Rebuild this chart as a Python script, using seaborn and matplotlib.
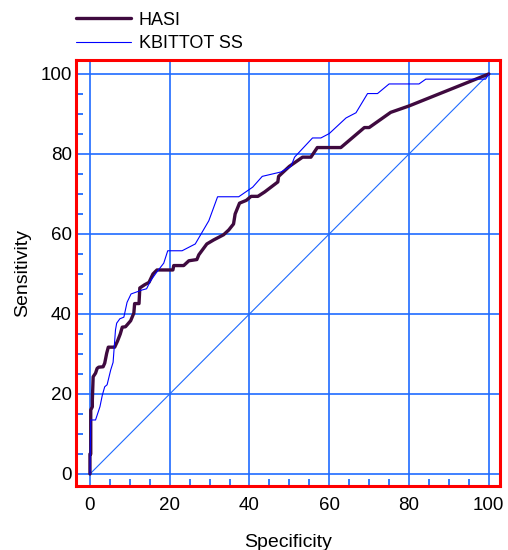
import pandas as pd
import matplotlib
matplotlib.use('Agg')
import matplotlib.pyplot as plt
from matplotlib.ticker import MultipleLocator
import seaborn as sns

# ROC curves
hasi_x = [0, 0, 0.2, 0.2, 0.6, 0.6, 0.8, 1.4, 1.8, 2.2, 3.3, 3.7, 4.2, 4.6, 6.2,
          6.9, 7.6, 8.1, 8.9, 10.2, 11.0, 11.2, 12.3, 12.5, 13.7, 14.8, 15.8, 16.8,
          20.8, 21.0, 23.5, 24.8, 26.8, 27.3, 29.3, 31.0, 33.5, 34.8, 36.0, 36.4,
          37.5, 39.2, 40.4, 42.1, 43.8, 47.1, 47.3, 50.0, 53.3, 55.4, 57.0, 62.9,
          68.8, 70.0, 75.4, 80.0, 100]
hasi_y = [0, 5, 5, 16, 16.8, 18.5, 24.3, 25.2, 26.4, 26.7, 26.8, 27.7, 30.2, 31.7, 31.7,
          33.2, 35.0, 36.7, 36.8, 38.3, 40.2, 42.6, 42.6, 46.5, 47.3, 47.9, 50.0, 51.0,
          51.0, 52.1, 52.1, 53.3, 53.6, 54.8, 57.5, 58.5, 59.8, 61.0, 62.5, 65.0,
          67.7, 68.4, 69.4, 69.4, 70.5, 73.0, 74.4, 76.9, 79.2, 79.2, 81.6, 81.6,
          86.6, 86.6, 90.4, 92.0, 100]

kbit_x = [0, 0.2, 1.4, 2.5, 3.1, 3.7, 4.3, 5.2, 5.8, 6.4, 6.7, 7.5, 8.5, 9.3, 10.3,
          13.1, 14.2, 15.2, 16.7, 18.5, 19.5, 23.1, 26.4, 29.8, 32.0, 37.3, 40.8,
          43.2, 47.9, 50.4, 51.3, 55.8, 57.9, 60.0, 64.2, 66.7, 69.6, 72.1, 75.0,
          82.5, 84.2, 99.2, 100]
kbit_y = [0, 13.5, 13.5, 16.8, 19.7, 21.8, 22.3, 26.0, 27.9, 36.0, 37.7, 38.8, 39.2, 42.9, 45.0,
          46.0, 46.3, 48.3, 50.4, 52.7, 55.8, 55.8, 57.5, 63.3, 69.3, 69.3, 71.7,
          74.4, 75.5, 76.9, 79.2, 84.0, 84.0, 85.1, 89.0, 90.3, 95.1, 95.1, 97.5,
          97.5, 98.7, 98.7, 100]

ref_x = [0, 100]
ref_y = [0, 100]

hasi = pd.DataFrame({'Specificity': hasi_x, 'Sensitivity': hasi_y})
kbit = pd.DataFrame({'Specificity': kbit_x, 'Sensitivity': kbit_y})
ref = pd.DataFrame({'Specificity': ref_x, 'Sensitivity': ref_y})

sns.set_style('white')
plt.rcParams['font.family'] = ['Liberation Sans', 'DejaVu Sans']
plt.rcParams['text.color'] = 'black'
plt.rcParams['axes.labelcolor'] = 'black'

grid_blue = '#1f6bff'

fig = plt.figure(figsize=(5.08, 5.5), dpi=100)
ax = fig.add_axes([0.1496, 0.1164, 0.8346, 0.7746])

sns.lineplot(data=ref, x='Specificity', y='Sensitivity', ax=ax, color=grid_blue,
             linewidth=0.8, sort=False, estimator=None)
sns.lineplot(data=hasi, x='Specificity', y='Sensitivity', ax=ax, color='#3f0a3f',
             linewidth=2.4, sort=False, estimator=None, label='HASI')
sns.lineplot(data=kbit, x='Specificity', y='Sensitivity', ax=ax, color='#0000ff',
             linewidth=0.8, sort=False, estimator=None, label='KBITTOT SS')

ax.set_xlim(-3.5, 102.8)
ax.set_ylim(-3, 103.5)
ax.xaxis.set_major_locator(MultipleLocator(20))
ax.yaxis.set_major_locator(MultipleLocator(20))
ax.xaxis.set_minor_locator(MultipleLocator(5))
ax.yaxis.set_minor_locator(MultipleLocator(5))
ax.grid(True, which='major', color=grid_blue, linewidth=1.2)
ax.set_axisbelow(True)
ax.tick_params(which='both', direction='in', color=grid_blue, width=1.3,
               bottom=True, left=True, top=False, right=False,
               labelsize=13.5, labelcolor='black')
ax.tick_params(which='major', length=0)
ax.tick_params(which='minor', length=5)
ax.tick_params(axis='x', which='major', pad=8)
ax.tick_params(axis='y', which='major', pad=3)

for s in ax.spines.values():
    s.set_color('#ff0000')
    s.set_linewidth(2.2)
    s.set_visible(True)

ax.set_xlabel('Specificity', fontsize=14, labelpad=14, color='black')
ax.set_ylabel('Sensitivity', fontsize=14, labelpad=7, color='black')

handles, labels = ax.get_legend_handles_labels()
ax.get_legend().remove()
fig.legend(handles, labels, loc='upper left', bbox_to_anchor=(0.122, 1.005),
           frameon=False, fontsize=13, handlelength=3.0, handletextpad=0.45,
           borderpad=0.3, labelspacing=0.35, labelcolor='black')

fig.savefig('out.png', dpi=100)
